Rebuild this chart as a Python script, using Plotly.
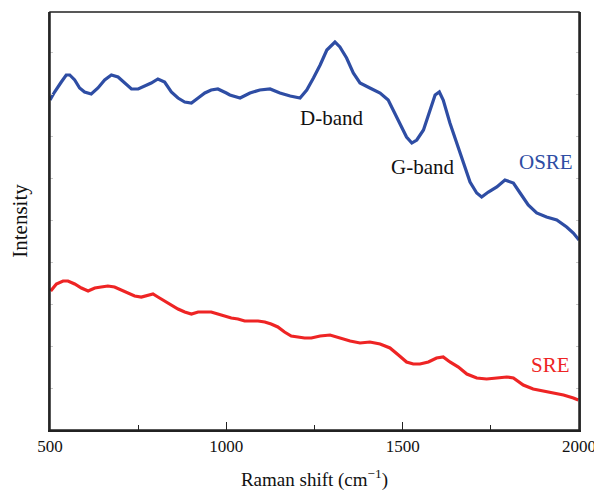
import plotly.graph_objects as go

# OSRE spectrum (Raman shift cm-1, intensity a.u.)
osre_x = [500, 513, 532, 546, 556, 570, 584, 598, 617, 636, 655, 674, 693, 712, 731, 750,
          769, 787, 806, 825, 844, 863, 882, 901, 920, 939, 957, 976, 1000, 1010, 1039, 1067,
          1095, 1124, 1152, 1181, 1209, 1228, 1247, 1266, 1285, 1308, 1322, 1341, 1360, 1379,
          1407, 1436, 1459, 1478, 1492, 1511, 1526, 1540, 1559, 1578, 1592, 1604, 1615, 1634,
          1653, 1672, 1691, 1710, 1724, 1743, 1767, 1790, 1814, 1833, 1856, 1880, 1908, 1937,
          1965, 1984, 2000]
osre_y = [330, 338, 348, 355, 355, 350, 342, 338, 336, 342, 350, 355, 353, 347, 341, 341,
          344, 347, 351, 348, 338, 332, 328, 327, 332, 337, 340, 341, 337, 335, 332, 337,
          340, 341, 337, 334, 332, 340, 352, 365, 380, 388, 383, 372, 357, 347,
          342, 337, 330, 317, 307, 293, 287, 290, 300, 320, 335, 338, 330, 307,
          287, 267, 248, 237, 233, 238, 243, 250, 247, 237, 225, 217, 213, 210,
          203, 197, 190]

# SRE spectrum
sre_x = [502, 518, 537, 551, 570, 589, 608, 627, 645, 664, 683, 702, 721, 740, 759, 778,
         792, 806, 825, 844, 863, 882, 901, 920, 939, 957, 976, 995, 1014, 1033, 1052, 1071,
         1090, 1109, 1127, 1146, 1165, 1184, 1203, 1222, 1241, 1255, 1266, 1294, 1322, 1351,
         1379, 1407, 1436, 1464, 1488, 1511, 1530, 1549, 1573, 1596, 1615, 1634, 1658, 1682,
         1710, 1738, 1767, 1795, 1814, 1842, 1870, 1899, 1927, 1956, 1984, 1998]
sre_y = [139, 146, 149, 149, 146, 142, 139, 142, 143, 144, 143, 140, 137, 134, 133, 135,
         136, 133, 129, 125, 121, 118, 116, 118, 118, 118, 116, 114, 112, 111, 109, 109,
         109, 108, 106, 103, 98, 94, 93, 92, 92, 93, 94, 95, 92, 89,
         87, 88, 86, 82, 75, 68, 66, 66, 68, 72, 73, 68, 63, 56,
         52, 51, 52, 53, 52, 45, 41, 39, 37, 35, 32, 30]

x_ticks = [500, 1000, 1500, 2000]

BLUE = "#2E4DA4"
RED = "#EE2424"
FONT = "Liberation Serif"

fig = go.Figure()
fig.add_trace(go.Scatter(x=osre_x, y=osre_y, mode="lines",
                         line=dict(color=BLUE, width=3.2), showlegend=False))
fig.add_trace(go.Scatter(x=sre_x, y=sre_y, mode="lines",
                         line=dict(color=RED, width=3.2), showlegend=False))

annots = [
    dict(x=1297, y=312, text="D-band", color="#111111"),
    dict(x=1556, y=263, text="G-band", color="#111111"),
    dict(x=1905, y=268, text="OSRE", color=BLUE),
    dict(x=1918, y=65, text="SRE", color=RED),
]
for a in annots:
    fig.add_annotation(x=a["x"], y=a["y"], text=a["text"], showarrow=False,
                       font=dict(family=FONT, size=21, color=a["color"]))

# page body has an 8px default margin, so the figure is sized/offset to compensate
fig.update_layout(
    width=594, height=483,
    margin=dict(l=42, r=23, t=4, b=61),
    paper_bgcolor="white", plot_bgcolor="white",
    font=dict(family=FONT, size=18, color="#111111"),
    xaxis=dict(range=[500, 2000], tickvals=x_ticks, ticks="inside", ticklen=8,
               tickcolor="#222222", tickwidth=1.3, automargin=False,
               minor=dict(dtick=250, tick0=500, ticks="inside", ticklen=5,
                          tickcolor="#222222", tickwidth=1.2),
               showline=True, linecolor="#222222", linewidth=1.5, showgrid=False,
               zeroline=False, tickfont=dict(size=17),
               title=dict(text="Raman shift (cm<sup>−1</sup>)", font=dict(size=19), standoff=18)),
    yaxis=dict(range=[0, 418], showticklabels=False, ticks="inside", ticklen=3,
               tick0=0, dtick=42, tickcolor="#c8c8c8", mirror="ticks", automargin=False,
               showline=True, linecolor="#333333", linewidth=1.5, showgrid=False,
               zeroline=False,
               title=dict(text="Intensity", font=dict(size=21), standoff=17)),
    shapes=[dict(type="rect", xref="paper", yref="paper", x0=0, x1=1, y0=0, y1=1,
                 line=dict(color="#222222", width=1.5), layer="above")],
)

fig.write_html("out.html")
